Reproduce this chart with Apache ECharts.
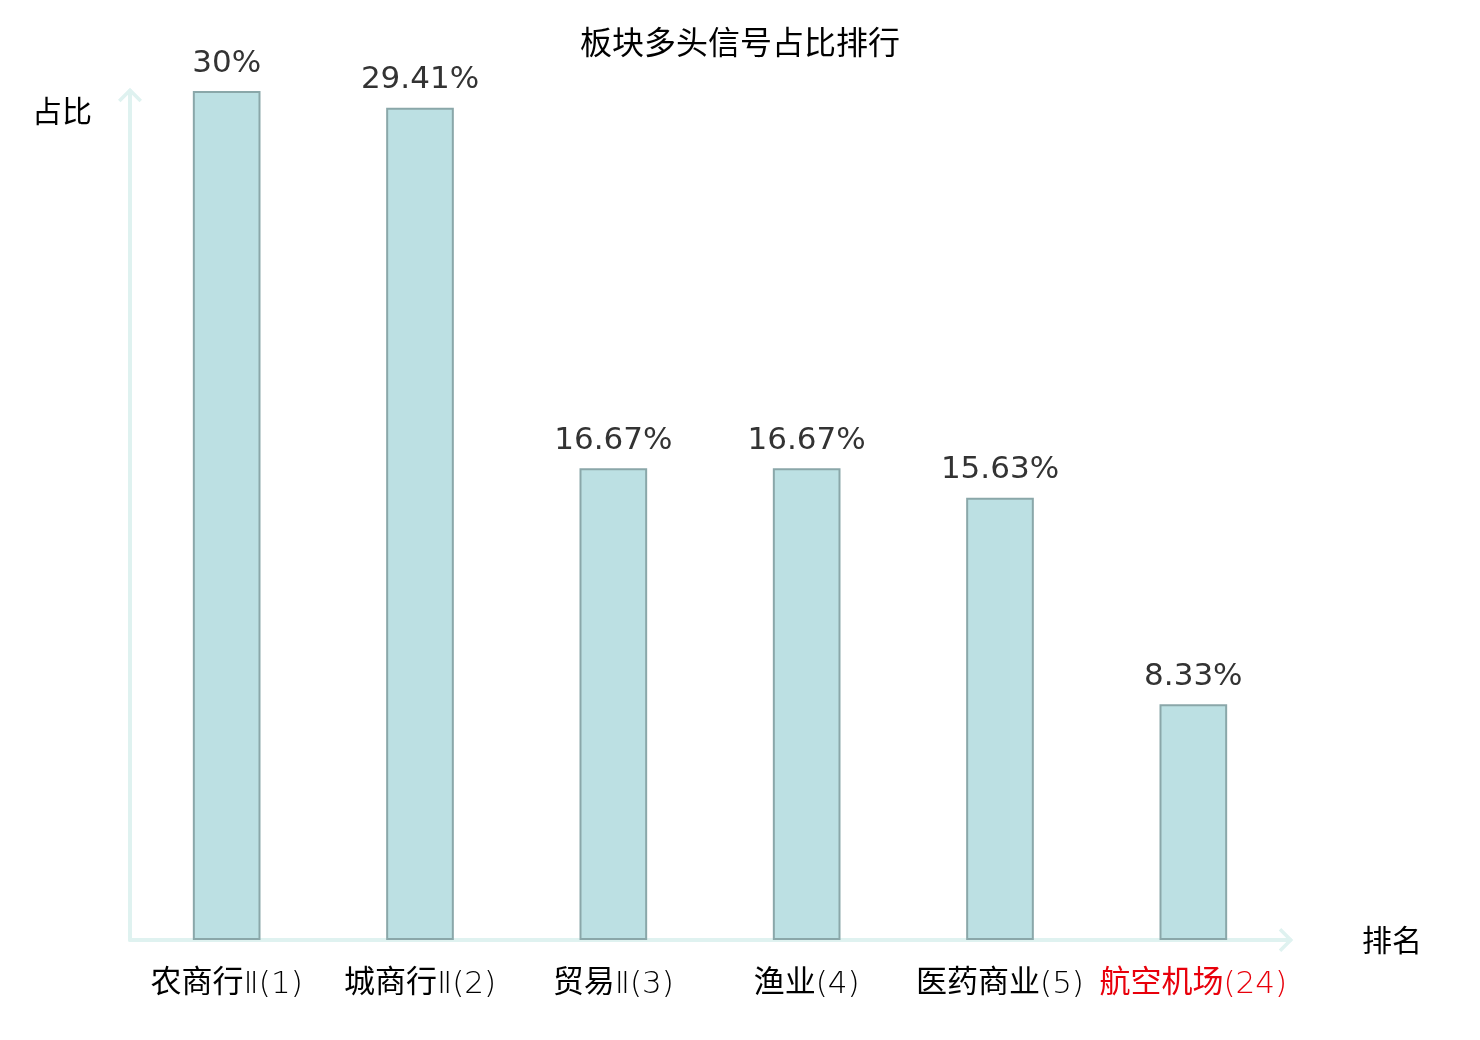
<!DOCTYPE html>
<html>
<head>
<meta charset="utf-8">
<title>板块多头信号占比排行</title>
<script src="https://cdn.jsdelivr.net/npm/echarts@6/dist/echarts.min.js"></script>
<style>
    html, body { margin: 0; padding: 0; background: #fff; }
    #main { width: 1480px; height: 1040px; }
</style>
</head>
<body>
<div id="main"></div>
<script>
(function () {
    'use strict';

    var categories = ['农商行Ⅱ(1)', '城商行Ⅱ(2)', '贸易Ⅱ(3)', '渔业(4)', '医药商业(5)', '航空机场(24)'];
    var ratios = [30, 29.41, 16.67, 16.67, 15.63, 8.33];
    var highlightIndex = [5];

    var axisColor = '#dff2f0';
    // open chevron for the axis ends
    var chevron = 'path://M0,12 L12,0 L24,12 L21.5,14.5 L12,5 L2.5,14.5 Z';

    // chinese part in regular weight, the rest (Ⅱ, digits, parens) thin
    function splitLabel(value, index) {
        var m = value.match(/^([\u4e00-\u9fa5]+)(.*)$/);
        var red = highlightIndex.indexOf(index) >= 0 ? 'R' : '';
        if (!m) return '{en' + red + '|' + value + '}';
        return '{cn' + red + '|' + m[1] + '}{en' + red + '|' + m[2] + '}';
    }

    var cnStyle = { fontSize: 31, lineHeight: 40, fontFamily: 'Noto Sans CJK SC', fontWeight: 'normal', color: '#000' };
    var enStyle = { fontSize: 31, lineHeight: 40, fontFamily: 'DejaVu Sans', fontWeight: 200, color: '#000', padding: [10, 0, 0, 0] };

    var myChart = echarts.init(document.getElementById('main'));

    myChart.setOption({
        backgroundColor: '#fff',
        title: {
            text: '板块多头信号占比排行',
            left: 'center',
            top: 21,
            textStyle: {
                fontSize: 32,
                fontWeight: 'normal',
                color: '#000',
                fontFamily: 'Noto Sans CJK SC'
            }
        },
        grid: {
            left: 130,
            right: 190,
            top: 91,
            bottom: 100
        },
        xAxis: {
            type: 'category',
            data: categories,
            name: '排名',
            nameGap: 72,
            nameTextStyle: {
                fontSize: 30,
                color: '#000',
                fontFamily: 'Noto Sans CJK SC'
            },
            axisLine: {
                symbol: ['none', chevron],
                symbolSize: [24, 15],
                symbolOffset: [0, -4],
                lineStyle: { color: axisColor, width: 4 }
            },
            axisTick: { show: false },
            axisLabel: {
                fontSize: 31,
                margin: 20,
                interval: 0,
                formatter: splitLabel,
                rich: {
                    cn: cnStyle,
                    en: enStyle,
                    cnR: Object.assign({}, cnStyle, { color: '#e8000b' }),
                    enR: Object.assign({}, enStyle, { color: '#e8000b' })
                }
            }
        },
        yAxis: {
            type: 'value',
            min: 0,
            max: 30,
            name: '占比',
            nameGap: -20,
            nameTextStyle: {
                fontSize: 30,
                color: '#000',
                align: 'right',
                verticalAlign: 'middle',
                padding: [0, 38, 0, 0],
                fontFamily: 'Noto Sans CJK SC'
            },
            axisLine: {
                show: true,
                symbol: ['none', chevron],
                symbolSize: [24, 15],
                symbolOffset: [0, -4],
                lineStyle: { color: axisColor, width: 4 }
            },
            axisTick: { show: false },
            axisLabel: { show: false },
            splitLine: { show: false }
        },
        series: [{
            name: '占比',
            type: 'bar',
            data: ratios,
            barWidth: '35%',
            itemStyle: {
                color: '#bce0e3',
                borderColor: '#8aa7a9',
                borderWidth: 2
            },
            label: {
                show: true,
                position: 'top',
                distance: 12,
                formatter: '{c}%',
                fontSize: 31,
                color: '#333',
                fontFamily: 'DejaVu Sans'
            }
        }]
    });
}());
</script>
</body>
</html>
